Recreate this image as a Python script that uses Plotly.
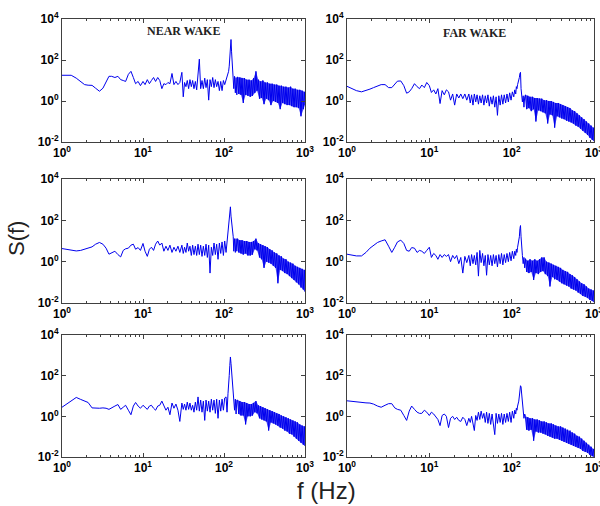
import plotly.graph_objects as go

# shared frequency grid (Hz)
freq = [
    1.0, 1.15, 1.3, 1.5, 1.7, 1.9, 2.1, 2.35, 2.6, 2.9,
    3.2, 3.5, 3.8, 4.1, 4.5, 4.9, 5.3, 5.7, 6.1, 6.6,
    7.1, 7.6, 8.1, 8.7, 9.3, 10.0, 10.6, 11.3, 12.0, 12.7,
    13.5, 14.3, 15.2, 16.1, 17.1, 18.1, 19.2, 20.3, 21.5, 22.8,
    24.1, 25.5, 27.0, 28.5,
    30.2, 31.4, 32.6, 33.9, 35.2, 36.6, 38.0, 39.5, 41.0, 42.6,
    44.3, 46.0, 47.8, 49.6, 51.5, 53.5, 55.6, 57.8, 60.0, 62.3,
    64.7, 67.2, 69.8, 72.5, 75.3, 78.2, 81.2, 84.4, 87.7, 91.1,
    94.6, 98.3, 102,
    106, 109, 112, 114, 116, 118, 120, 122, 124, 126,
    128, 130, 132, 135, 138, 141, 144,
    147, 152, 157, 162, 167, 173, 179, 185, 191, 197,
    204, 211, 218, 225, 232, 240, 248, 256, 265, 274,
    283, 292, 302, 312, 322, 333, 344, 356, 368, 380,
    393, 406, 419, 433, 448, 463, 478, 494, 511, 528,
    545, 563, 582, 602, 622, 642, 664, 686, 709, 732,
    757, 782, 808, 835, 863, 892, 921, 952, 984, 1000,
]
# index where the dense (alternating upper/lower) high-frequency band begins
band_start = 94

near_wake_1 = [
    18, 18, 18, 13, 9, 6.3, 5.9, 5.8, 4.2, 3.0,
    4.2, 9, 16, 16, 14, 16, 11, 10, 9, 20,
    28, 14, 7, 9, 5.6, 9, 6.3, 11, 7, 10,
    14, 9, 14, 10, 4, 7, 6.3, 8, 7, 22,
    6.3, 9, 6.3, 8,
    25, 1.6, 8, 5, 10, 4, 11, 5, 10, 4,
    9, 3.5, 16, 110, 4, 10, 4, 13, 4.5, 11,
    1.1, 11, 5, 14, 4.5, 11, 5, 9, 3.2, 9,
    3.2, 10, 6.3,
    11, 13, 20, 28, 50, 160, 630, 1000, 250, 80,
    32, 20, 4, 16, 2.5, 14, 2,
    15, 2.2, 14, 2, 13, 0.8, 13, 2, 11, 1.8,
    11, 1.6, 10, 1.8, 13, 2.5, 28, 3.2, 11, 1.3,
    9, 1.4, 10, 0.7, 8, 1.3, 8, 1.1, 7, 0.63,
    7, 1, 6.3, 0.9, 6.3, 0.8, 5.6, 0.4, 5.6, 0.8,
    5, 0.7, 5, 0.63, 4.5, 0.63, 5, 0.56, 4, 0.5,
    4, 0.5, 3.5, 0.45, 3.5, 0.18, 3.2, 0.4, 2.8, 0.63,
]

far_wake_1 = [
    5.2, 4, 3.2, 2.8, 3.2, 3.8, 4.5, 5.6, 6.3, 6.3,
    4.5, 4.5, 6.6, 9.3, 9.5, 5.6, 2.4, 2.8, 4, 7,
    5, 4, 6, 4.5, 8, 5.6, 2.6, 3.5, 2.2, 4,
    0.75, 3.2, 2, 3.5, 2.8, 1.1, 2.2, 0.63, 2.2, 1.4,
    2.2, 1.3, 2.2, 1.1,
    2.2, 0.8, 2, 0.63, 2.2, 0.9, 2, 0.7, 1.8, 0.8,
    2, 0.63, 1.8, 0.8, 2, 0.56, 1.6, 0.7, 1.8, 0.5,
    1.6, 0.2, 1.8, 0.63, 2, 0.7, 2, 0.8, 2.2, 0.9,
    2.5, 1.1, 2.8,
    1.6, 3.5, 2.2, 5, 4, 6.3, 8, 10, 14, 22,
    25, 4, 1.3, 0.9, 1.8, 0.5, 1.6,
    2, 0.4, 1.8, 0.45, 1.6, 0.32, 1.6, 0.4, 1.4, 0.1,
    1.4, 0.35, 1.3, 0.32, 1.3, 0.28, 1.1, 0.25, 1.1, 0.08,
    1, 0.22, 1, 0.2, 0.9, 0.05, 0.8, 0.18, 0.8, 0.16,
    0.7, 0.14, 0.63, 0.13, 0.56, 0.11, 0.5, 0.1, 0.45, 0.09,
    0.35, 0.08, 0.32, 0.063, 0.25, 0.056, 0.2, 0.045, 0.16, 0.035,
    0.13, 0.028, 0.1, 0.022, 0.08, 0.016, 0.063, 0.0126, 0.05, 0.011,
]

near_wake_2 = [
    4.3, 4, 3.7, 3.3, 3.5, 4, 4.2, 5.2, 7, 8.5,
    7, 4.5, 2.3, 2.6, 3.2, 2.2, 1.7, 3.5, 4.2, 4.5,
    6.3, 7, 4, 4.8, 3.5, 7.6, 3.2, 1.8, 4, 5,
    3.5, 7, 10, 6.3, 8, 3.2, 5.6, 3.5, 6.3, 2.8,
    5, 3.2, 5.6, 2.8,
    6.3, 2.5, 5, 2.8, 8, 3.2, 5.6, 2, 6.3, 2.2,
    5.6, 2, 7, 2.2, 6.3, 1.8, 5.6, 2, 7, 1.6,
    6.3, 0.28, 5, 2, 8, 2.2, 7, 1.3, 8, 2.5,
    9, 2, 10,
    2.8, 11, 20, 50, 130, 320, 450, 160, 90, 40,
    28, 16, 3.2, 13, 2.8, 13, 3.2,
    13, 2.8, 11, 2.5, 11, 2.2, 10, 2.5, 10, 2,
    9, 2, 9, 2.2, 10, 4, 13, 3.5, 8, 1.6,
    7, 1.3, 6.3, 0.5, 5.6, 1, 5, 0.9, 4, 0.8,
    3.5, 0.63, 2.8, 0.5, 2.5, 0.09, 2, 0.4, 1.8, 0.35,
    1.4, 0.28, 1.3, 0.25, 1, 0.2, 0.9, 0.16, 0.8, 0.13,
    0.63, 0.1, 0.56, 0.08, 0.5, 0.056, 0.45, 0.045, 0.4, 0.035,
]

far_wake_2 = [
    2.3, 2.1, 1.9, 1.9, 2.8, 4.5, 6.3, 8.5, 10, 11.5,
    5.6, 2.8, 5, 9, 11, 7.6, 3.5, 3.2, 4.8, 4.5,
    2.8, 3.5, 3.2, 2.5, 3.5, 5, 1.6, 2.5, 2, 1.3,
    2.2, 1.6, 2.2, 1.8, 2.2, 1, 2, 1.4, 2, 0.8,
    1.6, 0.28, 1.8, 0.9,
    2, 0.63, 2.2, 0.8, 2, 0.7, 2.8, 0.2, 3.5, 0.9,
    2.5, 0.63, 2, 0.22, 2.2, 0.7, 2, 0.63, 2.2, 0.8,
    2, 0.56, 2.2, 0.8, 2.5, 0.7, 2.2, 0.9, 2.5, 1,
    2.8, 1.1, 3.2,
    1.4, 3.2, 2, 4, 2.8, 5, 7, 9, 16, 40,
    56, 16, 3.2, 2, 0.8, 1.6, 0.5,
    1.4, 0.32, 1.1, 0.28, 1.3, 0.32, 1.1, 0.13, 1.3, 0.28,
    1.1, 0.25, 1.3, 0.32, 1.6, 0.35, 1.6, 0.25, 1, 0.2,
    0.9, 0.063, 0.8, 0.18, 0.7, 0.14, 0.63, 0.13, 0.56, 0.11,
    0.5, 0.09, 0.4, 0.08, 0.35, 0.07, 0.32, 0.063, 0.25, 0.05,
    0.22, 0.045, 0.18, 0.04, 0.14, 0.032, 0.11, 0.028, 0.09, 0.022,
    0.08, 0.02, 0.063, 0.018, 0.05, 0.014, 0.045, 0.0126, 0.04, 0.011,
]

near_wake_3 = [
    2.8, 4, 6, 8.5, 6.8, 5.9, 4.8, 2.6, 2.5, 2.5,
    2.6, 2.5, 2.2, 2.5, 3.2, 3.8, 2.2, 2.8, 3.5, 2,
    1.2, 3.2, 4.8, 3.2, 2.5, 3.5, 2.8, 2.2, 3.2, 3.5,
    2.5, 2, 3.2, 3.5, 5.6, 3.5, 2, 2.8, 1.2, 4.5,
    2.5, 4, 2, 0.56,
    4.5, 2.2, 4, 2, 5, 2.2, 4.5, 2, 3.5, 1.6,
    5, 2, 9, 1.8, 6.3, 1.6, 5.6, 0.63, 6.3, 1.8,
    5.6, 1.6, 7, 2, 6.3, 1.4, 7, 0.8, 6.3, 1.8,
    7, 2, 8,
    9, 1.6, 13, 28, 100, 320, 830, 400, 180, 80,
    40, 20, 10, 2, 7, 1.3, 6.3,
    6.3, 1.3, 5.6, 1.1, 5, 1.1, 5, 0.4, 4.5, 1,
    4, 1, 4, 1.1, 4.5, 1.6, 5.6, 1.4, 3.5, 0.8,
    3.2, 0.7, 2.8, 0.63, 2.5, 0.56, 2.2, 0.2, 2, 0.5,
    1.8, 0.45, 1.6, 0.4, 1.4, 0.35, 1.3, 0.28, 1.1, 0.25,
    1, 0.2, 0.9, 0.18, 0.8, 0.14, 0.7, 0.13, 0.63, 0.1,
    0.56, 0.08, 0.5, 0.063, 0.4, 0.05, 0.35, 0.04, 0.32, 0.035,
]

far_wake_3 = [
    5.8, 5.4, 5, 4.6, 4.6, 4.5, 4, 3.2, 2.8, 3.5,
    4.2, 4.2, 2.6, 2.2, 2, 1.1, 0.63, 1.8, 3.2, 2.2,
    1.6, 1.4, 1.4, 2, 1.6, 1.1, 1.6, 1.3, 1, 0.7,
    0.35, 1.1, 1.3, 1, 0.28, 0.8, 1, 0.7, 0.9, 0.63,
    0.56, 0.9, 0.7, 0.35,
    0.8, 0.5, 1, 0.45, 0.2, 1.1, 0.63, 1.6, 0.7, 1.8,
    0.8, 1.4, 0.5, 1.6, 0.45, 1.4, 0.4, 1.3, 0.5, 0.126,
    1.4, 0.45, 1.3, 0.5, 1.4, 0.4, 1.3, 0.5, 1.4, 0.56,
    1.6, 0.5, 1.8,
    0.8, 2, 1.3, 2.5, 2, 3.2, 4, 5.6, 10, 18,
    32, 28, 14, 6.3, 1.6, 0.8, 1.3,
    1, 0.22, 0.9, 0.2, 0.8, 0.22, 0.8, 0.063, 0.7, 0.18,
    0.7, 0.16, 0.63, 0.16, 0.56, 0.14, 0.56, 0.13, 0.5, 0.11,
    0.45, 0.1, 0.45, 0.09, 0.4, 0.08, 0.35, 0.08, 0.32, 0.07,
    0.32, 0.063, 0.28, 0.056, 0.25, 0.05, 0.22, 0.045, 0.2, 0.04,
    0.16, 0.035, 0.14, 0.032, 0.11, 0.028, 0.1, 0.025, 0.08, 0.02,
    0.063, 0.018, 0.05, 0.016, 0.04, 0.0126, 0.032, 0.011, 0.025, 0.01,
]

x_tickvals = [1, 10, 100, 1000]
x_ticktext = ["10<sup>0</sup>", "10<sup>1</sup>", "10<sup>2</sup>", "10<sup>3</sup>"]
y_tickvals = [0.01, 1, 100, 10000]
y_ticktext = ["10<sup>-2</sup>", "10<sup>0</sup>", "10<sup>2</sup>", "10<sup>4</sup>"]

panels = [near_wake_1, far_wake_1, near_wake_2, far_wake_2, near_wake_3, far_wake_3]
for p in panels:
    assert len(p) == len(freq), len(p)

col_dom = [[62 / 600, 305 / 600], [347 / 600, 594 / 600]]
row_dom = [[1 - 142 / 506, 1 - 19 / 506], [1 - 303 / 506, 1 - 179 / 506], [1 - 457 / 506, 1 - 335 / 506]]

fig = go.Figure()
tickfont = dict(family="Arial, Liberation Sans", size=12, color="black", weight="bold")
frame = "#404040"
blue = "#0000ee"

layout = {}
for i, vals in enumerate(panels):
    r, c = divmod(i, 2)
    n = i + 1
    xa = "x" if n == 1 else f"x{n}"
    ya = "y" if n == 1 else f"y{n}"
    # dense band: envelope between alternating upper / lower samples
    hf = freq[band_start:]
    hv = vals[band_start:]
    up_f, up_v = hf[0::2], hv[0::2]
    lo_f, lo_v = hf[1::2], hv[1::2]
    fig.add_trace(go.Scatter(x=up_f + lo_f[::-1], y=up_v + lo_v[::-1], mode="lines",
                             fill="toself", fillcolor="rgba(0,0,238,0.7)",
                             line=dict(width=0), xaxis=xa, yaxis=ya,
                             showlegend=False, hoverinfo="skip"))
    fig.add_trace(go.Scatter(x=freq, y=vals, mode="lines", xaxis=xa, yaxis=ya,
                             line=dict(color=blue, width=1), showlegend=False,
                             hoverinfo="skip"))
    layout["xaxis" if n == 1 else f"xaxis{n}"] = dict(
        type="log", range=[0, 3], domain=col_dom[c], anchor=ya, automargin=False,
        tickmode="array", tickvals=x_tickvals, ticktext=x_ticktext,
        ticks="inside", ticklen=4, tickcolor=frame, showgrid=False, zeroline=False,
        showline=True, linecolor=frame, linewidth=1, mirror="allticks",
        tickfont=tickfont, ticklabeloverflow="allow",
        minor=dict(ticks="inside", ticklen=2, tickcolor=frame, dtick="D1", showgrid=False),
    )
    layout["yaxis" if n == 1 else f"yaxis{n}"] = dict(
        type="log", range=[-2, 4], domain=row_dom[r], anchor=xa, automargin=False,
        tickmode="array", tickvals=y_tickvals, ticktext=y_ticktext,
        ticks="inside", ticklen=4, tickcolor=frame, showgrid=False, zeroline=False,
        showline=True, linecolor=frame, linewidth=1, mirror="allticks",
        tickfont=tickfont, ticklabeloverflow="allow",
    )

fig.update_layout(**layout)
fig.update_layout(
    width=600, height=506, margin=dict(l=0, r=0, t=0, b=0, autoexpand=False),
    paper_bgcolor="white", plot_bgcolor="white",
    annotations=[
        dict(text="<b>NEAR WAKE</b>", x=183 / 600, y=1 - 31 / 506, xref="paper", yref="paper",
             xanchor="center", yanchor="middle", showarrow=False,
             font=dict(family="Liberation Serif, Times New Roman", size=12, color="#222")),
        dict(text="<b>FAR WAKE</b>", x=474 / 600, y=1 - 33 / 506, xref="paper", yref="paper",
             xanchor="center", yanchor="middle", showarrow=False,
             font=dict(family="Liberation Serif, Times New Roman", size=12, color="#222")),
        dict(text="S(f)", x=17 / 600, y=1 - 239 / 506, xref="paper", yref="paper", textangle=-90,
             xanchor="center", yanchor="middle", showarrow=False,
             font=dict(family="Arial, Liberation Sans", size=22, color="#222")),
        dict(text="f (Hz)", x=326 / 600, y=1 - 490 / 506, xref="paper", yref="paper",
             xanchor="center", yanchor="middle", showarrow=False,
             font=dict(family="Arial, Liberation Sans", size=24, color="#222")),
    ],
)

fig.write_html("out.html", config={"displayModeBar": False})

# remove the browser's default page margin so the figure sits at the window origin
with open("out.html", "r", encoding="utf-8") as fh:
    html = fh.read()
html = html.replace("<body>", '<body style="margin:0;padding:0;overflow:hidden">', 1)
with open("out.html", "w", encoding="utf-8") as fh:
    fh.write(html)
